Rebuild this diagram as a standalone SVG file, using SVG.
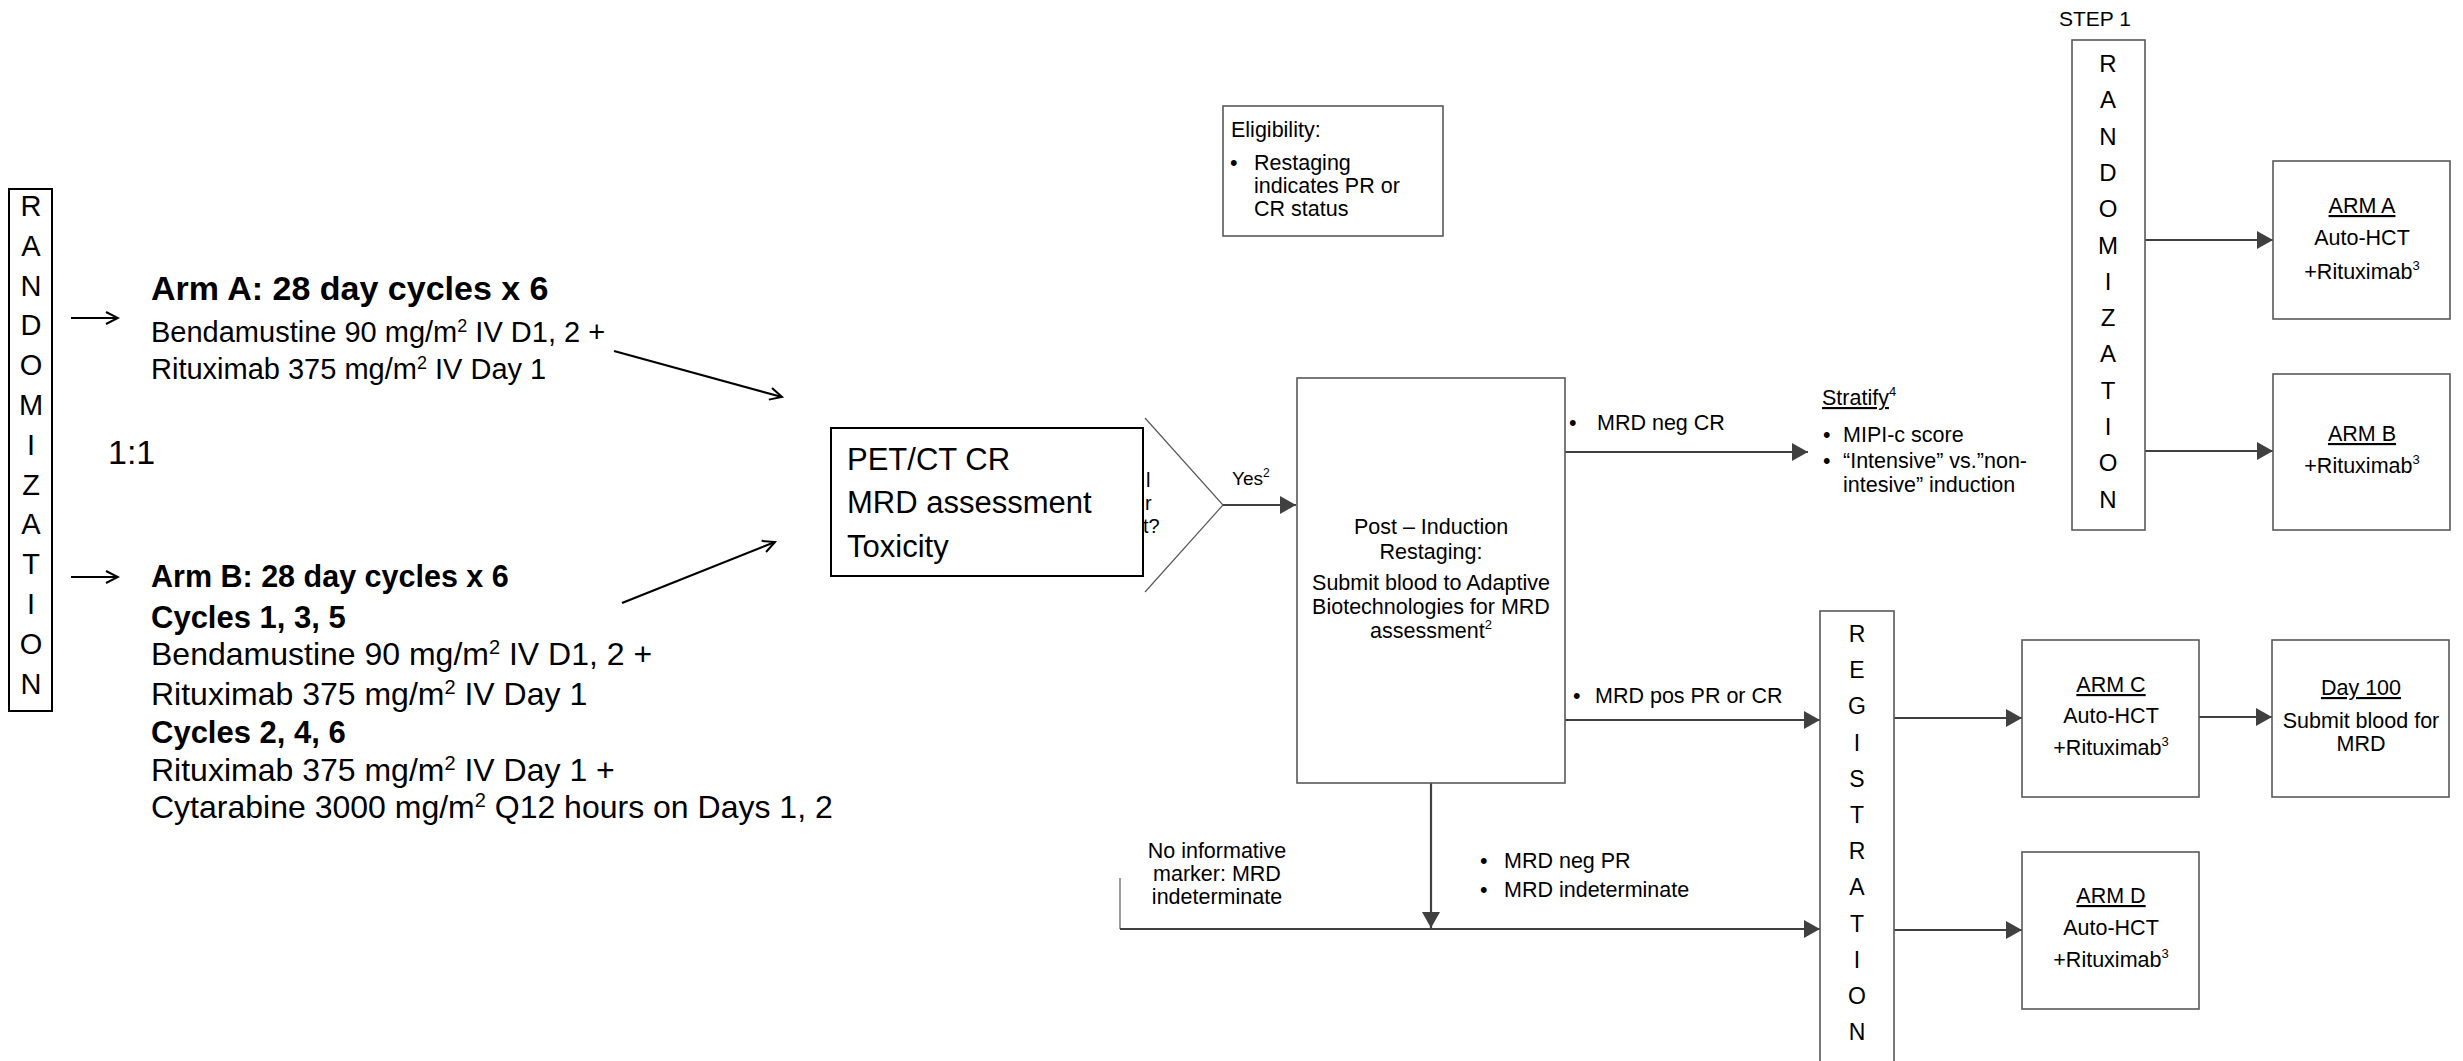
<svg xmlns="http://www.w3.org/2000/svg" width="2463" height="1061" viewBox="0 0 2463 1061">
<style>
text{font-family:"Liberation Sans",Arial,sans-serif;fill:#000}
.s21{font-size:21.5px}
.let{font-size:23px;text-anchor:middle}
.mid{text-anchor:middle}
.box{fill:#fff;stroke:#595959;stroke-width:1.6}
.bbox{fill:#fff;stroke:#000;stroke-width:2}
.con{stroke:#404040;stroke-width:2.2;fill:none}
.bcon{stroke:#000;stroke-width:2.2;fill:none}
.thin{stroke:#595959;stroke-width:1.2;fill:none}
.u{text-decoration:underline}
</style>
<defs>
<marker id="ah" markerUnits="userSpaceOnUse" markerWidth="18" markerHeight="18" refX="16" refY="9" orient="auto">
<path d="M0,0 L16,9 L0,18 Z" fill="#404040"/>
</marker>
<marker id="oa" markerUnits="userSpaceOnUse" markerWidth="16" markerHeight="16" refX="14" refY="8" orient="auto">
<path d="M2,2 L14,8 L2,14" fill="none" stroke="#000" stroke-width="2"/>
</marker>
</defs>

<g id="connectors">
<line class="bcon" x1="71" y1="318" x2="118" y2="318" marker-end="url(#oa)"/>
<line class="bcon" x1="71" y1="577" x2="118" y2="577" marker-end="url(#oa)"/>
<line class="bcon" x1="614" y1="351" x2="782" y2="397" marker-end="url(#oa)"/>
<line class="bcon" x1="622" y1="603" x2="775" y2="542" marker-end="url(#oa)"/>
<polyline class="thin" points="1145,418 1223,505 1145,592"/>
<line class="con" x1="1223" y1="505" x2="1296" y2="505" marker-end="url(#ah)"/>
<line class="con" x1="1565" y1="452" x2="1808" y2="452" marker-end="url(#ah)"/>
<line class="con" x1="1565" y1="720" x2="1820" y2="720" marker-end="url(#ah)"/>
<line class="con" x1="1431" y1="783" x2="1431" y2="928" marker-end="url(#ah)"/>
<line class="thin" x1="1120" y1="878" x2="1120" y2="929"/>
<line class="con" x1="1120" y1="929" x2="1820" y2="929" marker-end="url(#ah)"/>
<line class="con" x1="2145" y1="240" x2="2273" y2="240" marker-end="url(#ah)"/>
<line class="con" x1="2145" y1="451" x2="2273" y2="451" marker-end="url(#ah)"/>
<line class="con" x1="1894" y1="718" x2="2022" y2="718" marker-end="url(#ah)"/>
<line class="con" x1="2199" y1="717" x2="2272" y2="717" marker-end="url(#ah)"/>
<line class="con" x1="1894" y1="930" x2="2022" y2="930" marker-end="url(#ah)"/>
</g>

<g id="randomization-left">
<rect class="bbox" x="9" y="189" width="43" height="522"/>
<text style="font-size:29px" text-anchor="middle">
<tspan x="31" y="216">R</tspan><tspan x="31" y="255.8">A</tspan><tspan x="31" y="295.6">N</tspan><tspan x="31" y="335.4">D</tspan><tspan x="31" y="375.2">O</tspan><tspan x="31" y="415">M</tspan><tspan x="31" y="454.8">I</tspan><tspan x="31" y="494.6">Z</tspan><tspan x="31" y="534.4">A</tspan><tspan x="31" y="574.2">T</tspan><tspan x="31" y="614">I</tspan><tspan x="31" y="653.8">O</tspan><tspan x="31" y="693.6">N</tspan>
</text>
</g>

<g id="ratio">
<text x="108" y="464" style="font-size:34px">1:1</text>
</g>

<g id="arm-a-induction">
<text x="151" y="300" style="font-size:34px;font-weight:bold">Arm A: 28 day cycles x 6</text>
<text x="151" y="342" style="font-size:29px">Bendamustine 90 mg/m<tspan dy="-10" style="font-size:18px">2</tspan><tspan dy="10"> IV D1, 2 +</tspan></text>
<text x="151" y="379" style="font-size:29px">Rituximab 375 mg/m<tspan dy="-10" style="font-size:18px">2</tspan><tspan dy="10"> IV Day 1</tspan></text>
</g>

<g id="arm-b-induction">
<text x="151" y="587" style="font-size:30.5px;font-weight:bold">Arm B: 28 day cycles x 6</text>
<text x="151" y="628" style="font-size:31px;font-weight:bold">Cycles  1, 3, 5</text>
<text x="151" y="665" style="font-size:32px">Bendamustine  90 mg/m<tspan dy="-11" style="font-size:20px">2</tspan><tspan dy="11"> IV D1, 2 +</tspan></text>
<text x="151" y="705" style="font-size:32px">Rituximab 375 mg/m<tspan dy="-11" style="font-size:20px">2</tspan><tspan dy="11"> IV Day 1</tspan></text>
<text x="151" y="743" style="font-size:31px;font-weight:bold">Cycles  2, 4, 6</text>
<text x="151" y="781" style="font-size:32px">Rituximab 375 mg/m<tspan dy="-11" style="font-size:20px">2</tspan><tspan dy="11"> IV Day 1 +</tspan></text>
<text x="151" y="818" style="font-size:32px">Cytarabine 3000 mg/m<tspan dy="-11" style="font-size:20px">2</tspan><tspan dy="11"> Q12 hours on Days 1, 2</tspan></text>
</g>

<g id="decision">
<text x="1146" y="487" style="font-size:20px">l</text>
<text x="1145" y="510" style="font-size:20px">r</text>
<text x="1143" y="533" style="font-size:20px">t?</text>
<text x="1232" y="485" style="font-size:19px">Yes<tspan dy="-8" style="font-size:12px">2</tspan></text>
</g>

<g id="pet-ct">
<rect class="bbox" x="831" y="428" width="312" height="148"/>
<text x="847" y="470" style="font-size:31px">PET/CT CR</text>
<text x="847" y="513" style="font-size:31px">MRD assessment</text>
<text x="847" y="557" style="font-size:31px">Toxicity</text>
</g>

<g id="eligibility">
<rect class="box" x="1223" y="106" width="220" height="130"/>
<text class="s21" x="1231" y="137">Eligibility:</text>
<text class="s21" x="1230" y="170">•</text>
<text class="s21" x="1254" y="170">Restaging</text>
<text class="s21" x="1254" y="193">indicates PR or</text>
<text class="s21" x="1254" y="216">CR status</text>
</g>

<g id="post-induction">
<rect class="box" x="1297" y="378" width="268" height="405"/>
<text class="s21 mid" x="1431" y="534">Post – Induction</text>
<text class="s21 mid" x="1431" y="559">Restaging:</text>
<text class="s21 mid" x="1431" y="590">Submit blood to Adaptive</text>
<text class="s21 mid" x="1431" y="614">Biotechnologies for MRD</text>
<text class="s21 mid" x="1431" y="638">assessment<tspan dy="-9" style="font-size:13px">2</tspan></text>
</g>

<g id="labels">
<text class="s21" x="1569" y="430">•</text>
<text class="s21" x="1597" y="430">MRD neg CR</text>
<text class="s21" x="1573" y="703">•</text>
<text class="s21" x="1595" y="703">MRD pos PR or CR</text>
<text class="s21" x="1480" y="868">•</text>
<text class="s21" x="1504" y="868">MRD neg PR</text>
<text class="s21" x="1480" y="897">•</text>
<text class="s21" x="1504" y="897">MRD indeterminate</text>
<text class="s21 mid" x="1217" y="858">No informative</text>
<text class="s21 mid" x="1217" y="881">marker: MRD</text>
<text class="s21 mid" x="1217" y="904">indeterminate</text>
</g>

<g id="stratify">
<text class="s21" x="1822" y="405"><tspan class="u">Stratify</tspan><tspan dy="-9" style="font-size:13px">4</tspan></text>
<text class="s21" x="1823" y="442">•</text>
<text class="s21" x="1843" y="442">MIPI-c score</text>
<text class="s21" x="1823" y="468">•</text>
<text class="s21" x="1843" y="468">“Intensive” vs.”non-</text>
<text class="s21" x="1843" y="492">intesive” induction</text>
</g>

<g id="step1-randomization">
<text x="2059" y="26" style="font-size:21px">STEP 1</text>
<rect class="box" x="2072" y="40" width="73" height="490"/>
<text class="let" style="font-size:24px"><tspan x="2108" y="72">R</tspan><tspan x="2108" y="108.3">A</tspan><tspan x="2108" y="144.6">N</tspan><tspan x="2108" y="180.9">D</tspan><tspan x="2108" y="217.2">O</tspan><tspan x="2108" y="253.5">M</tspan><tspan x="2108" y="289.8">I</tspan><tspan x="2108" y="326.1">Z</tspan><tspan x="2108" y="362.4">A</tspan><tspan x="2108" y="398.7">T</tspan><tspan x="2108" y="435">I</tspan><tspan x="2108" y="471.3">O</tspan><tspan x="2108" y="507.6">N</tspan></text>
</g>

<g id="arm-a">
<rect class="box" x="2273" y="161" width="177" height="158"/>
<text class="s21 mid u" x="2362" y="213">ARM A</text>
<text class="s21 mid" x="2362" y="245">Auto-HCT</text>
<text class="s21 mid" x="2362" y="279">+Rituximab<tspan dy="-9" style="font-size:13px">3</tspan></text>
</g>

<g id="arm-b">
<rect class="box" x="2273" y="374" width="177" height="156"/>
<text class="s21 mid u" x="2362" y="441">ARM B</text>
<text class="s21 mid" x="2362" y="473">+Rituximab<tspan dy="-9" style="font-size:13px">3</tspan></text>
</g>

<g id="registration">
<rect class="box" x="1820" y="611" width="74" height="470"/>
<text class="let"><tspan x="1857" y="642">R</tspan><tspan x="1857" y="678.2">E</tspan><tspan x="1857" y="714.4">G</tspan><tspan x="1857" y="750.6">I</tspan><tspan x="1857" y="786.8">S</tspan><tspan x="1857" y="823">T</tspan><tspan x="1857" y="859.2">R</tspan><tspan x="1857" y="895.4">A</tspan><tspan x="1857" y="931.6">T</tspan><tspan x="1857" y="967.8">I</tspan><tspan x="1857" y="1004">O</tspan><tspan x="1857" y="1040.2">N</tspan></text>
</g>

<g id="arm-c">
<rect class="box" x="2022" y="640" width="177" height="157"/>
<text class="s21 mid u" x="2111" y="692">ARM C</text>
<text class="s21 mid" x="2111" y="723">Auto-HCT</text>
<text class="s21 mid" x="2111" y="755">+Rituximab<tspan dy="-9" style="font-size:13px">3</tspan></text>
</g>

<g id="day-100">
<rect class="box" x="2272" y="640" width="177" height="157"/>
<text class="s21 mid u" x="2361" y="695">Day 100</text>
<text class="s21 mid" x="2361" y="728">Submit blood for</text>
<text class="s21 mid" x="2361" y="751">MRD</text>
</g>

<g id="arm-d">
<rect class="box" x="2022" y="852" width="177" height="157"/>
<text class="s21 mid u" x="2111" y="903">ARM D</text>
<text class="s21 mid" x="2111" y="935">Auto-HCT</text>
<text class="s21 mid" x="2111" y="967">+Rituximab<tspan dy="-9" style="font-size:13px">3</tspan></text>
</g>
</svg>
